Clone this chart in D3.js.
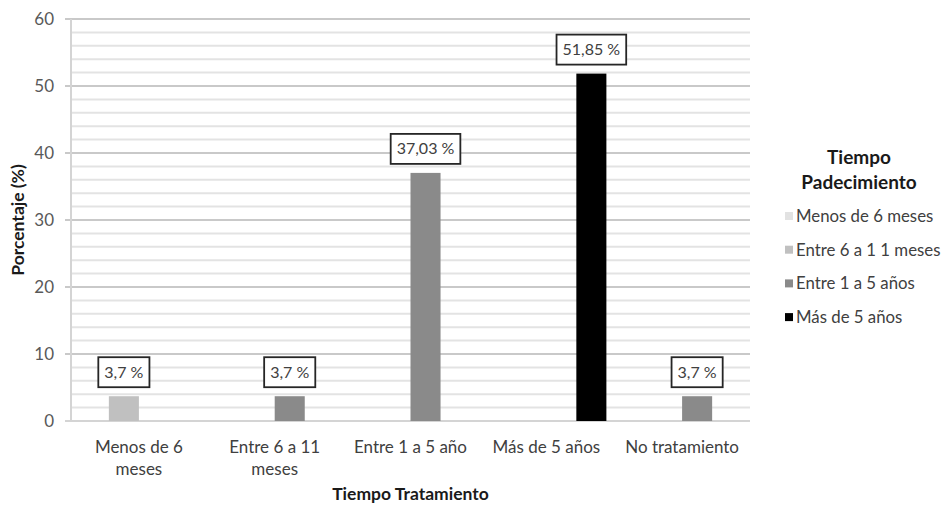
<!DOCTYPE html>
<html><head><meta charset="utf-8">
<script src="https://cdn.jsdelivr.net/npm/d3@7"></script>
<style>
body{margin:0;background:#fff;}
text{font-family:Lato, "Open Sans", sans-serif;}
</style></head>
<body><svg id="c" width="948" height="506"></svg>
<script>
const categories = ["Menos de 6 meses","Entre 6 a 11 meses","Entre 1 a 5 año","Más de 5 años","No tratamiento"];
const categoryLines = [["Menos de 6","meses"],["Entre 6 a 11","meses"],["Entre 1 a 5 año"],["Más de 5 años"],["No tratamiento"]];
const seriesNames = ["Menos de 6 meses","Entre 6 a 1 1 meses","Entre 1 a 5 años","Más de 5 años"];
const seriesColors = ["#e2e2e2","#c0c0c0","#8a8a8a","#000000"];
const values = [
  [0,0,0,0,0],
  [3.7,0,0,0,0],
  [0,3.7,37.03,0,3.7],
  [0,0,0,51.85,0]
];
const labelTexts = ["3,7 %","3,7 %","37,03 %","51,85 %","3,7 %"];
const yTicks = [0,10,20,30,40,50,60];

const svg = d3.select("#c");
const L=71,R=750,T=19,B=421;
const y = d3.scaleLinear().domain([0,60]).range([B,T]);
const x0 = d3.scaleBand().domain(categories).range([L,R]);
const x1 = d3.scaleBand().domain(d3.range(seriesNames.length)).range([0,x0.bandwidth()]).paddingOuter(0.26);

// minor grid
svg.append("g").selectAll("line").data(d3.range(2,60,2).filter(v=>v%10!==0)).join("line")
  .attr("x1",L).attr("x2",R).attr("y1",d=>y(d)).attr("y2",d=>y(d))
  .attr("stroke","#e3e3e3").attr("stroke-width",2);
// major grid
svg.append("g").selectAll("line").data(yTicks.filter(v=>v>0)).join("line")
  .attr("x1",L-6).attr("x2",R).attr("y1",d=>y(d)).attr("y2",d=>y(d))
  .attr("stroke","#c9c9c9").attr("stroke-width",2);
// axis lines
svg.append("line").attr("x1",L).attr("x2",L).attr("y1",T).attr("y2",B).attr("stroke","#d4d4d4").attr("stroke-width",2);
svg.append("line").attr("x1",L-6).attr("x2",R).attr("y1",B).attr("y2",B).attr("stroke","#d4d4d4").attr("stroke-width",2);

// y tick labels
svg.append("g").selectAll("text").data(yTicks).join("text")
  .attr("x",L-17).attr("y",d=>y(d)).attr("dy","0.36em").attr("text-anchor","end")
  .attr("font-size",17).attr("fill","#595959").text(d=>d);

// bars
values.forEach((vals,si)=>{
  svg.append("g").selectAll("rect").data(vals.map((v,ci)=>({v,ci})).filter(d=>d.v>0)).join("rect")
    .attr("x",d=>x0(categories[d.ci])+x1(si)).attr("width",x1.bandwidth())
    .attr("y",d=>y(d.v)).attr("height",d=>y(0)-y(d.v)).attr("fill",seriesColors[si]);
});

// data labels
categories.forEach((c,ci)=>{
  const si = values.findIndex(s=>s[ci]>0);
  const v = values[si][ci];
  const cx = x0(c)+x1(si)+x1.bandwidth()/2;
  const g = svg.append("g");
  const t = g.append("text").attr("x",cx).attr("y",y(v)-9-15).attr("dy","0.35em").attr("text-anchor","middle")
    .attr("font-size",16).attr("fill","#404040").text(labelTexts[ci]);
  const w = t.node().getComputedTextLength()+12;
  g.insert("rect","text").attr("x",cx-w/2).attr("y",y(v)-9-30).attr("width",w).attr("height",30)
    .attr("fill","#fff").attr("stroke","#262626").attr("stroke-width",1.8);
});

// category labels
categories.forEach((c,ci)=>{
  const cx = x0(c)+x0.bandwidth()/2;
  const t = svg.append("text").attr("x",cx).attr("y",453).attr("text-anchor","middle")
    .attr("font-size",17).attr("fill","#404040");
  categoryLines[ci].forEach((ln,i)=>t.append("tspan").attr("x",cx).attr("dy",i?22:0).text(ln));
});

// axis titles
svg.append("text").attr("x",(L+R)/2).attr("y",500).attr("text-anchor","middle").attr("font-weight","bold")
  .attr("font-size",17.5).attr("fill","#1a1a1a").text("Tiempo Tratamiento");
svg.append("text").attr("transform","translate(24,220) rotate(-90)").attr("text-anchor","middle").attr("font-weight","bold")
  .attr("font-size",17.5).attr("fill","#1a1a1a").text("Porcentaje (%)");

// legend
svg.append("text").attr("x",859).attr("y",164).attr("text-anchor","middle").attr("font-weight","bold")
  .attr("font-size",19).attr("fill","#1a1a1a").text("Tiempo");
svg.append("text").attr("x",859).attr("y",189).attr("text-anchor","middle").attr("font-weight","bold")
  .attr("font-size",19).attr("fill","#1a1a1a").text("Padecimiento");
const lg = svg.append("g").selectAll("g").data(seriesNames).join("g")
  .attr("transform",(d,i)=>`translate(785,${216+i*33.7})`);
lg.append("rect").attr("x",0).attr("y",-4).attr("width",8).attr("height",8).attr("fill",(d,i)=>seriesColors[i]);
lg.append("text").attr("x",11).attr("dy","0.35em").attr("font-size",16.8).attr("fill","#404040").text(d=>d);
</script></body></html>
